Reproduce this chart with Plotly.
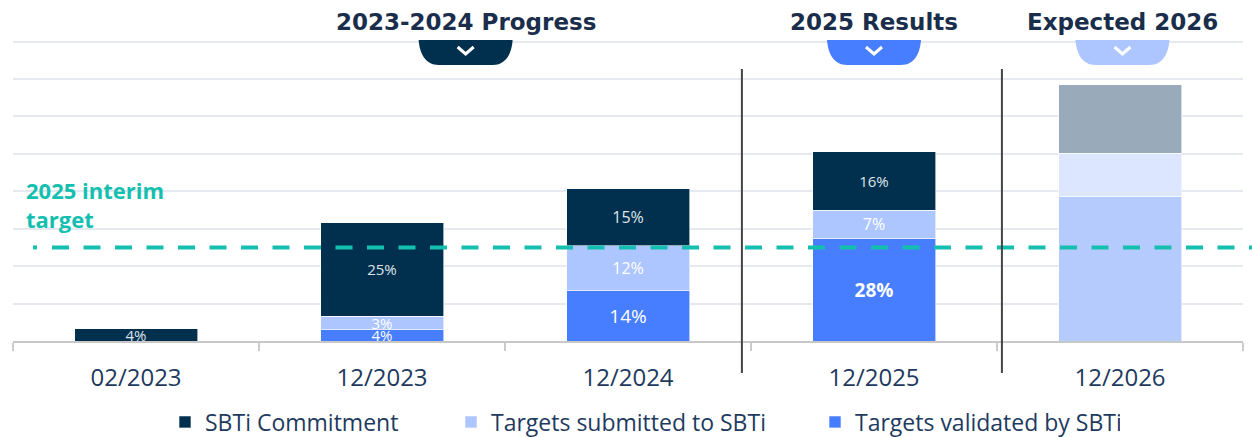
import plotly.graph_objects as go

categories = ["02/2023", "12/2023", "12/2024", "12/2025", "12/2026"]
commitment = [3.3, 25.0, 15.3, 15.6, 18.3]
submitted = [0.0, 3.4, 11.9, 7.4, 11.6]
validated = [0.0, 3.2, 13.5, 27.5, 38.6]
commitment_labels = ["4%", "25%", "15%", "16%", ""]
submitted_labels = ["", "3%", "12%", "7%", ""]
validated_labels = ["", "4%", "14%", "28%", ""]
interim_target = 25
headers = ["2023-2024 Progress", "2025 Results", "Expected 2026"]
header_pos = [1.34, 3.0, 4.01]
divider_pos = [2.463, 3.52]

NAVY = "#01304F"
SUB = "#ADC6FF"
VAL = "#477EFF"
TEAL = "#14BFB0"
TXT = "#1E3A5F"

L, R, T, B = 13, 9, 40, 96
PW = 1252 - L - R
PH = 437 - T - B

fig = go.Figure()

fig.add_trace(go.Bar(
    name="Targets validated by SBTi", x=categories, y=validated,
    marker=dict(color=[VAL, VAL, VAL, VAL, "#B5CAFD"],
                line=dict(color="rgba(255,255,255,0.6)", width=1)),
    width=0.5, text=validated_labels, textposition="inside",
    insidetextanchor="middle", constraintext="none", textangle=0,
    textfont=dict(family="Open Sans", size=[15, 15, 19, 19, 15], color="#ffffff",
                  weight=["normal", "normal", "normal", "bold", "normal"]),
    legendwidth=260, hoverinfo="skip"))

fig.add_trace(go.Bar(
    name="Targets submitted to SBTi", x=categories, y=submitted,
    marker=dict(color=[SUB, SUB, SUB, SUB, "#DCE6FF"],
                line=dict(color="rgba(255,255,255,0.6)", width=1)),
    width=0.5, text=submitted_labels, textposition="inside",
    insidetextanchor="middle", constraintext="none", textangle=0,
    textfont=dict(family="Open Sans", size=[15, 15, 16, 16, 15], color="#ffffff"),
    legendwidth=319, hoverinfo="skip"))

fig.add_trace(go.Bar(
    name="SBTi Commitment", x=categories, y=commitment,
    marker=dict(color=[NAVY, NAVY, NAVY, NAVY, "#99AABA"],
                line=dict(color="rgba(255,255,255,0.6)", width=1)),
    width=0.5, text=commitment_labels, textposition="inside",
    insidetextanchor="middle", constraintext="none", textangle=0,
    textfont=dict(family="Open Sans", size=[15, 15, 16, 15, 15], color="#dfe4ea"),
    legendwidth=241, hoverinfo="skip"))

shapes = []
# interim target dashed line
shapes.append(dict(type="line", xref="paper", yref="y", x0=(52 - L) / PW, x1=(1252 - L) / PW,
                   y0=interim_target, y1=interim_target, layer="above",
                   line=dict(color=TEAL, width=4, dash="17px,14.5px")))
shapes.append(dict(type="line", xref="paper", yref="y", x0=(33 - L) / PW, x1=(37 - L) / PW,
                   y0=interim_target, y1=interim_target, layer="above",
                   line=dict(color=TEAL, width=4)))
# divider lines
for d in divider_pos:
    shapes.append(dict(type="line", xref="x", yref="paper", x0=d, x1=d,
                       y0=(341 - 373) / PH, y1=(341 - 69) / PH, layer="above",
                       line=dict(color="#444444", width=2)))
# badges
badge_colors = ["#01304F", "#477EFF", "#ADC6FF"]
for xp, bc in zip(header_pos, badge_colors):
    shapes.append(dict(type="path", xref="x", yref="paper", xsizemode="pixel", ysizemode="pixel",
                       xanchor=xp, yanchor=1,
                       path="M -47,0 L 47,0 C 46,-14 40,-25 27,-25 L -27,-25 C -40,-25 -46,-14 -47,0 Z",
                       fillcolor=bc, line=dict(width=0), layer="above"))
    shapes.append(dict(type="path", xref="x", yref="paper", xsizemode="pixel", ysizemode="pixel",
                       xanchor=xp, yanchor=1, path="M -8,-7 L 0,-14 L 8,-7",
                       line=dict(color="white", width=3), layer="above"))

annotations = []
for h, xp in zip(headers, header_pos):
    annotations.append(dict(text="<b>" + h + "</b>", x=xp, xref="x", y=1 + 18 / PH, yref="paper",
                            yanchor="middle", xanchor="center", showarrow=False,
                            font=dict(family="DejaVu Sans", size=23, color="#1A2E4C")))
annotations.append(dict(text="<b>2025 interim<br>target</b>", xref="paper", x=(24 - L) / PW,
                        yref="paper", y=(341 - 204) / PH, xanchor="left", yanchor="middle",
                        align="left", showarrow=False,
                        font=dict(family="Open Sans", size=22, color=TEAL)))

fig.update_layout(
    barmode="stack", width=1252, height=437,
    margin=dict(l=L, r=R, t=T, b=B, autoexpand=False),
    paper_bgcolor="white", plot_bgcolor="white",
    shapes=shapes, annotations=annotations,
    showlegend=True,
    legend=dict(orientation="h", x=(165 - L) / PW, xanchor="left",
                y=-(422 - 341) / PH, yanchor="middle",
                font=dict(family="Open Sans", size=23, color=TXT), traceorder="reversed"),
    xaxis=dict(type="category", categoryorder="array", categoryarray=categories,
               range=[-0.5, 4.5], tickson="boundaries", ticks="outside", ticklen=8,
               tickcolor="#cccccc", tickwidth=1.5, showline=True, linecolor="#c8c8c8", linewidth=1.5,
               showgrid=False, ticklabelstandoff=14,
               tickfont=dict(family="Open Sans", size=24, color=TXT)),
    yaxis=dict(range=[0, 80.4], dtick=10, showticklabels=False, showgrid=True,
               gridcolor="#e6e9ef", gridwidth=1.5, zeroline=False, showline=False),
)

fig.write_html("out.html", config={"displayModeBar": False},
               post_script="document.body.style.margin='0px';")
